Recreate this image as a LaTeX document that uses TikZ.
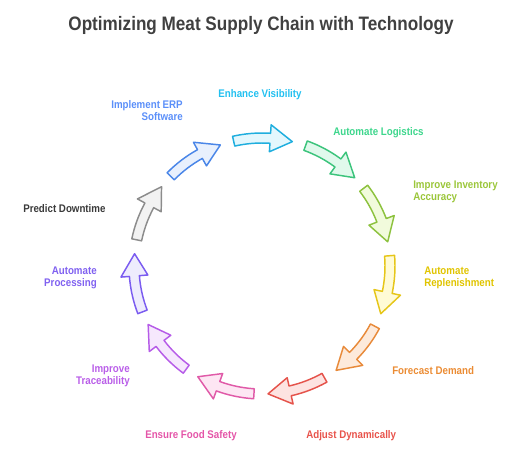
\documentclass[tikz,border=0pt]{standalone}
\usepackage{fontspec}
\setmainfont[FakeStretch=0.88]{Liberation Sans}
\definecolor{cBlueS}{HTML}{4A86E8}\definecolor{cBlueF}{HTML}{E8F0FD}\definecolor{cBlueT}{HTML}{5B8FF9}
\definecolor{cCyanS}{HTML}{1FAEDE}\definecolor{cCyanF}{HTML}{E3F7FD}\definecolor{cCyanT}{HTML}{22C0F0}
\definecolor{cGreenS}{HTML}{3CC47C}\definecolor{cGreenF}{HTML}{E0F9EC}\definecolor{cGreenT}{HTML}{3DD68C}
\definecolor{cLimeS}{HTML}{8DC23F}\definecolor{cLimeF}{HTML}{F1FBDC}\definecolor{cLimeT}{HTML}{9BC63A}
\definecolor{cYellS}{HTML}{E6C619}\definecolor{cYellF}{HTML}{FFFBD6}\definecolor{cYellT}{HTML}{E0C400}
\definecolor{cOrS}{HTML}{E88A3A}\definecolor{cOrF}{HTML}{FDEADB}\definecolor{cOrT}{HTML}{EB8C34}
\definecolor{cRedS}{HTML}{E5534B}\definecolor{cRedF}{HTML}{FDE3E1}\definecolor{cRedT}{HTML}{E8534B}
\definecolor{cPinkS}{HTML}{E05AA8}\definecolor{cPinkF}{HTML}{FDE6F3}\definecolor{cPinkT}{HTML}{E455A8}
\definecolor{cVioS}{HTML}{B65CE8}\definecolor{cVioF}{HTML}{F6E8FD}\definecolor{cVioT}{HTML}{B95EE8}
\definecolor{cIndS}{HTML}{7B5CF0}\definecolor{cIndF}{HTML}{EEECFD}\definecolor{cIndT}{HTML}{8061F0}
\definecolor{cGrayS}{HTML}{8C8C8C}\definecolor{cGrayF}{HTML}{F2F2F2}\definecolor{cGrayT}{HTML}{3A3A3A}
\definecolor{cTitle}{HTML}{404040}
\newcommand\cycarrow[3]{%
  \pgfmathsetmacro\ta{#1}%
  \pgfmathsetmacro\tb{#1-16.5}%
  \pgfmathsetmacro\tc{#1-26.5}%
  \draw[arrowbox, draw=#2, fill=#3] (\ta:133) arc[start angle=\ta, end angle=\tb, radius=133]
    -- (\tb:141.5) -- (\tc:128) -- (\tb:114.5) -- (\tb:123)
    arc[start angle=\tb, end angle=\ta, radius=123] -- cycle;
}
\tikzset{
  arrowbox/.style={line width=1.1pt, line join=round},
  lbl/.style={font=\fontsize{8.3}{9.4}\selectfont\bfseries, inner sep=0pt},
}
\begin{document}
\begin{tikzpicture}[x=0.75pt,y=0.75pt]
\useasboundingbox (-262,-195) rectangle (254,266);
\node[font=\fontsize{14.6}{16}\selectfont\bfseries, text=cTitle, inner sep=0pt] (title) at (-1,240) {Optimizing Meat Supply Chain with Technology};
\cycarrow{135.5}{cBlueS}{cBlueF}
\cycarrow{102.8}{cCyanS}{cCyanF}
\cycarrow{70.1}{cGreenS}{cGreenF}
\cycarrow{37.4}{cLimeS}{cLimeF}
\cycarrow{4.6}{cYellS}{cYellF}
\cycarrow{-28.1}{cOrS}{cOrF}
\cycarrow{-60.8}{cRedS}{cRedF}
\cycarrow{-93.6}{cPinkS}{cPinkF}
\cycarrow{-126.3}{cVioS}{cVioF}
\cycarrow{-159.0}{cIndS}{cIndF}
\cycarrow{168.2}{cGrayS}{cGrayF}
\node[lbl, text=cBlueT, anchor=east, align=right] (erp) at (-79,155.5) {Implement ERP\\Software};
\node[lbl, text=cCyanT] (vis) at (-2,171.5) {Enhance Visibility};
\node[lbl, text=cGreenT, anchor=west] (log) at (71,133.5) {Automate Logistics};
\node[lbl, text=cLimeT, anchor=west, align=left] (inv) at (151,74) {Improve Inventory\\Accuracy};
\node[lbl, text=cYellT, anchor=west, align=left] (rep) at (162,-12) {Automate\\Replenishment};
\node[lbl, text=cOrT, anchor=west] (fc) at (130,-104.5) {Forecast Demand};
\node[lbl, text=cRedT, anchor=west] (adj) at (44,-169.5) {Adjust Dynamically};
\node[lbl, text=cPinkT, anchor=west] (food) at (-117,-169.5) {Ensure Food Safety};
\node[lbl, text=cVioT, anchor=east, align=right] (trace) at (-132,-110) {Improve\\Traceability};
\node[lbl, text=cIndT, anchor=east, align=right] (proc) at (-165,-12) {Automate\\Processing};
\node[lbl, text=cGrayT, anchor=west] (down) at (-239,57.5) {Predict Downtime};
\end{tikzpicture}
\end{document}
